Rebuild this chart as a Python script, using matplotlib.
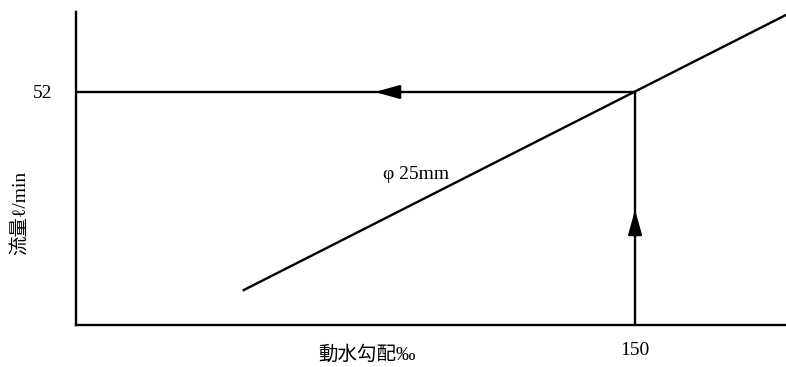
import numpy as np
import matplotlib
matplotlib.use('Agg')
import matplotlib.pyplot as plt

# 動水勾配 (‰) vs 流量 (ℓ/min), φ25mm
gradient = [45.0, 190.5]
flow = [7.8, 69.2]

read_x = 150
read_y = 52
pipe_label = 'φ 25mm'
x_label = '動水勾配‰'
y_label = '流量ℓ/min'

fam = ['Liberation Serif', 'Noto Sans CJK JP', 'DejaVu Sans']
plt.rcParams['font.family'] = fam

fig = plt.figure(figsize=(7.86, 3.67), dpi=100)
ax = fig.add_axes([0.0967, 0.1144, 0.9033, 0.8529])
ax.set_xlim(0, 190.5)
ax.set_ylim(0, 69.85)

ax.plot(gradient, flow, color='black', lw=1.7)

# reading lines
ax.plot([read_x, read_x], [0, read_y], color='black', lw=1.7)
ax.plot([0, read_x], [read_y, read_y], color='black', lw=1.7)
ax.annotate('', xy=(80.2, read_y), xytext=(87, read_y),
            arrowprops=dict(arrowstyle='-|>,head_length=1.5,head_width=0.42',
                            color='black', lw=1.7, shrinkA=0, shrinkB=0))
ax.annotate('', xy=(read_x, 25.7), xytext=(read_x, 20),
            arrowprops=dict(arrowstyle='-|>,head_length=1.5,head_width=0.42',
                            color='black', lw=1.7, shrinkA=0, shrinkB=0))

ax.text(82.5, 33.6, pipe_label, fontsize=14, va='center', ha='left')

for s in ['top', 'right']:
    ax.spines[s].set_visible(False)
for s in ['left', 'bottom']:
    ax.spines[s].set_linewidth(1.7)

ax.set_xticks([read_x])
ax.set_yticks([read_y])
ax.tick_params(length=0, labelsize=14)
ax.tick_params(axis='y', pad=17)
ax.tick_params(axis='x', pad=12)

ax.set_xlabel(x_label, fontsize=14)
ax.set_ylabel(y_label, fontsize=14)
ax.xaxis.set_label_coords(0.41, -0.096)
ax.yaxis.set_label_coords(-0.079, 0.358)
ax.xaxis.label.set_va('center')
ax.yaxis.label.set_va('center')

fig.savefig('out.png', dpi=100)
